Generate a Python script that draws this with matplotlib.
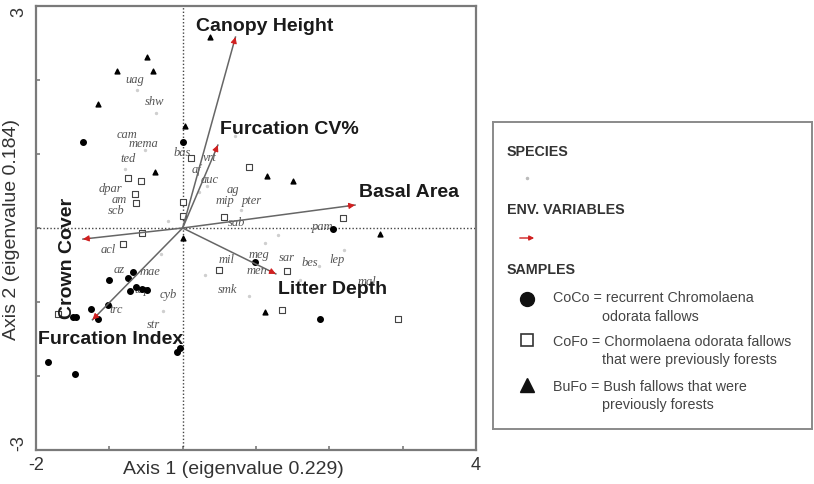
import numpy as np
import matplotlib
matplotlib.use('Agg')
import matplotlib.pyplot as plt

plt.rcParams['font.family'] = ['Liberation Sans', 'DejaVu Sans']

# Environmental variables (biplot arrow tips)
env_names = ['Canopy Height', 'Furcation CV%', 'Basal Area',
             'Litter Depth', 'Crown Cover', 'Furcation Index']
env_x = [0.72, 0.48, 2.35, 1.27, -1.36, -1.23]
env_y = [2.58, 1.12, 0.31, -0.62, -0.15, -1.24]

# Samples: CoCo (circles)
coco_x = [-1.36, 0.00, -1.01, -0.74, -0.68, -0.63, -0.55, -0.48, -0.72, -1.02,
          -1.25, -1.50, -1.45, -1.16, -1.83, -1.47, -0.08, -0.03, 1.87, 0.98, 2.05]
coco_y = [1.16, 1.16, -0.70, -0.68, -0.59, -0.80, -0.82, -0.84, -0.85, -1.04,
          -1.09, -1.20, -1.20, -1.23, -1.81, -1.97, -1.68, -1.62, -1.23, -0.46, -0.01]

# Samples: CoFo (open squares)
cofo_x = [0.12, 0.90, -0.74, -0.57, -0.65, -0.63, 0.00, 0.01, 0.56, -0.55,
          -0.82, 2.18, 0.50, 1.42, 1.36, 2.93, -1.70]
cofo_y = [0.95, 0.82, 0.68, 0.64, 0.46, 0.34, 0.35, 0.16, 0.15, -0.07,
          -0.22, 0.14, -0.57, -0.58, -1.11, -1.23, -1.16]

# Samples: BuFo (triangles)
bufo_x = [0.37, -0.49, -0.90, -0.41, -1.15, 0.03, -0.38, 1.15, 1.51, 0.00, 2.69, 1.12]
bufo_y = [2.58, 2.31, 2.12, 2.12, 1.68, 1.38, 0.76, 0.70, 0.64, -0.14, -0.08, -1.14]

# Species scores
sp_names = ['uag', 'shw', 'cam', 'mema', 'ted', 'dpar', 'am', 'scb', 'bas', 'vrt',
            'af', 'auc', 'ag', 'mip', 'pter', 'sab', 'pam', 'acl', 'az', 'mae',
            'tap', 'cyb', 'trc', 'str', 'mil', 'meg', 'sar', 'bes', 'lep', 'mal',
            'men', 'smk']
sp_x = [-0.65, -0.38, -0.76, -0.53, -0.75, -0.98, -0.87, -0.91, -0.01, 0.37,
        0.19, 0.37, 0.68, 0.57, 0.94, 0.74, 1.91, -1.01, -0.87, -0.44,
        -0.55, -0.19, -0.91, -0.40, 0.60, 1.04, 1.42, 1.73, 2.10, 2.51,
        1.01, 0.61]
sp_y = [2.01, 1.72, 1.27, 1.15, 0.95, 0.54, 0.39, 0.24, 1.03, 0.96,
        0.80, 0.66, 0.53, 0.38, 0.38, 0.08, 0.03, -0.28, -0.55, -0.58,
        -0.82, -0.89, -1.09, -1.30, -0.42, -0.35, -0.39, -0.46, -0.42, -0.72,
        -0.57, -0.82]
sp_pt_x = [-0.62, -0.36, -0.52, -0.78, 0.33, 0.22, 0.80, -0.30, 1.12, 1.86,
           0.30, -0.27, 1.60, 2.20, 0.72, -0.20, 0.90, 1.30]
sp_pt_y = [1.86, 1.56, 1.05, 0.80, 0.57, 0.48, 0.25, -0.35, -0.20, -0.52,
           -0.63, -1.12, -0.70, -0.30, 1.25, 0.10, -0.92, -0.10]

fig = plt.figure(figsize=(8.14, 4.85), dpi=100)
ax = fig.add_axes([36 / 814, 34 / 485, 440 / 814, 444 / 485])
ax.set_xlim(-2, 4)
ax.set_ylim(-3, 3)

frame = '#7a7a7a'
for s in ax.spines.values():
    s.set_color(frame)
    s.set_linewidth(1.6)

ax.axvline(0, color='#444444', ls=(0, (1, 1.5)), lw=1)
ax.axhline(0, color='#444444', ls=(0, (1, 1.5)), lw=1)

# species points and labels
ax.scatter(sp_pt_x, sp_pt_y, s=2, color='#cfcfcf', zorder=2)
for name, x, y in zip(sp_names, sp_x, sp_y):
    ax.text(x, y, name, fontsize=9, family='Liberation Serif', style='italic',
            color='#555555', ha='center', va='center', zorder=3)

# samples
ax.scatter(coco_x, coco_y, s=16, marker='o', color='black', zorder=4)
ax.scatter(cofo_x, cofo_y, s=14, marker='s', facecolor='white',
           edgecolor='#444444', linewidth=0.8, zorder=4)
ax.scatter(bufo_x, bufo_y, s=12, marker='^', color='black', zorder=4)

# environmental arrows
label_pos = {
    'Canopy Height': (1.12, 2.73, 0),
    'Furcation CV%': (1.46, 1.34, 0),
    'Basal Area': (3.08, 0.49, 0),
    'Litter Depth': (2.05, -0.82, 0),
    'Crown Cover': (-1.57, -0.40, 90),
    'Furcation Index': (-0.98, -1.50, 0),
}
for name, x, y in zip(env_names, env_x, env_y):
    ax.plot([0, x], [0, y], color='#666666', lw=1.1, zorder=5)
    ux, uy = x / np.hypot(x, y), y / np.hypot(x, y)
    ax.annotate('', xy=(x, y), xytext=(x - 0.1 * ux, y - 0.1 * uy),
                arrowprops=dict(arrowstyle='-|>', color='#d02020', lw=0.8,
                                mutation_scale=9, shrinkA=0, shrinkB=0), zorder=6)
    lx, ly, rot = label_pos[name]
    ax.text(lx, ly, name, fontsize=14, fontweight='bold', color='#1a1a1a',
            ha='center', va='center', rotation=rot, zorder=6)

ax.set_xticks(np.arange(-2, 5, 1))
ax.set_yticks(np.arange(-3, 4, 1))
ax.set_xticklabels(['-2', '', '', '', '', '', '4'])
ax.set_yticklabels(['-3', '', '', '', '', '', '3'], rotation=90)
ylabs = ax.get_yticklabels()
ylabs[0].set_va('bottom')
ylabs[-1].set_va('top')
ax.tick_params(direction='in', length=3, color=frame, width=1.2, labelsize=13,
               labelcolor='#333333', pad=4)
ax.tick_params(axis='y', pad=6)
ax.set_xlabel('Axis 1 (eigenvalue 0.229)', fontsize=14, color='#333333')
ax.set_ylabel('Axis 2 (eigenvalue 0.184)', fontsize=14, color='#333333')
ax.xaxis.set_label_coords(0.448, -0.022)
ax.yaxis.set_label_coords(-0.037, 0.5)

# legend box
lg = fig.add_axes([493 / 814, 1 - 430 / 485, 319 / 814, 307 / 485])
lg.set_xlim(0, 319)
lg.set_ylim(307, 0)
lg.set_xticks([])
lg.set_yticks([])
for s in lg.spines.values():
    s.set_color('#8a8a8a')
    s.set_linewidth(1.4)

hd = dict(fontsize=10.3, fontweight='bold', color='#333333', va='center', ha='left')
tx = dict(fontsize=10.3, color='#444444', va='center', ha='left')
lg.text(14, 29, 'SPECIES', **hd)
lg.plot([34], [56], marker='o', ms=1.5, color='#bbbbbb')
lg.text(14, 87, 'ENV. VARIABLES', **hd)
lg.annotate('', xy=(44, 116), xytext=(24, 116),
            arrowprops=dict(arrowstyle='-|>', color='#d02020', lw=1, mutation_scale=7))
lg.text(14, 147, 'SAMPLES', **hd)
lg.plot([34], [177], marker='o', ms=10, color='#111111')
lg.text(60, 175, 'CoCo = recurrent Chromolaena', **tx)
lg.text(109, 194, 'odorata fallows', **tx)
lg.plot([34], [218], marker='s', ms=9, mfc='white', mec='#333333', mew=1.2)
lg.text(60, 219, 'CoFo = Chormolaena odorata fallows', **tx)
lg.text(109, 237, 'that were previously forests', **tx)
lg.plot([34], [263], marker='^', ms=10, color='#111111')
lg.text(60, 264, 'BuFo = Bush fallows that were', **tx)
lg.text(109, 282, 'previously forests', **tx)

fig.savefig('out.png', dpi=100)
